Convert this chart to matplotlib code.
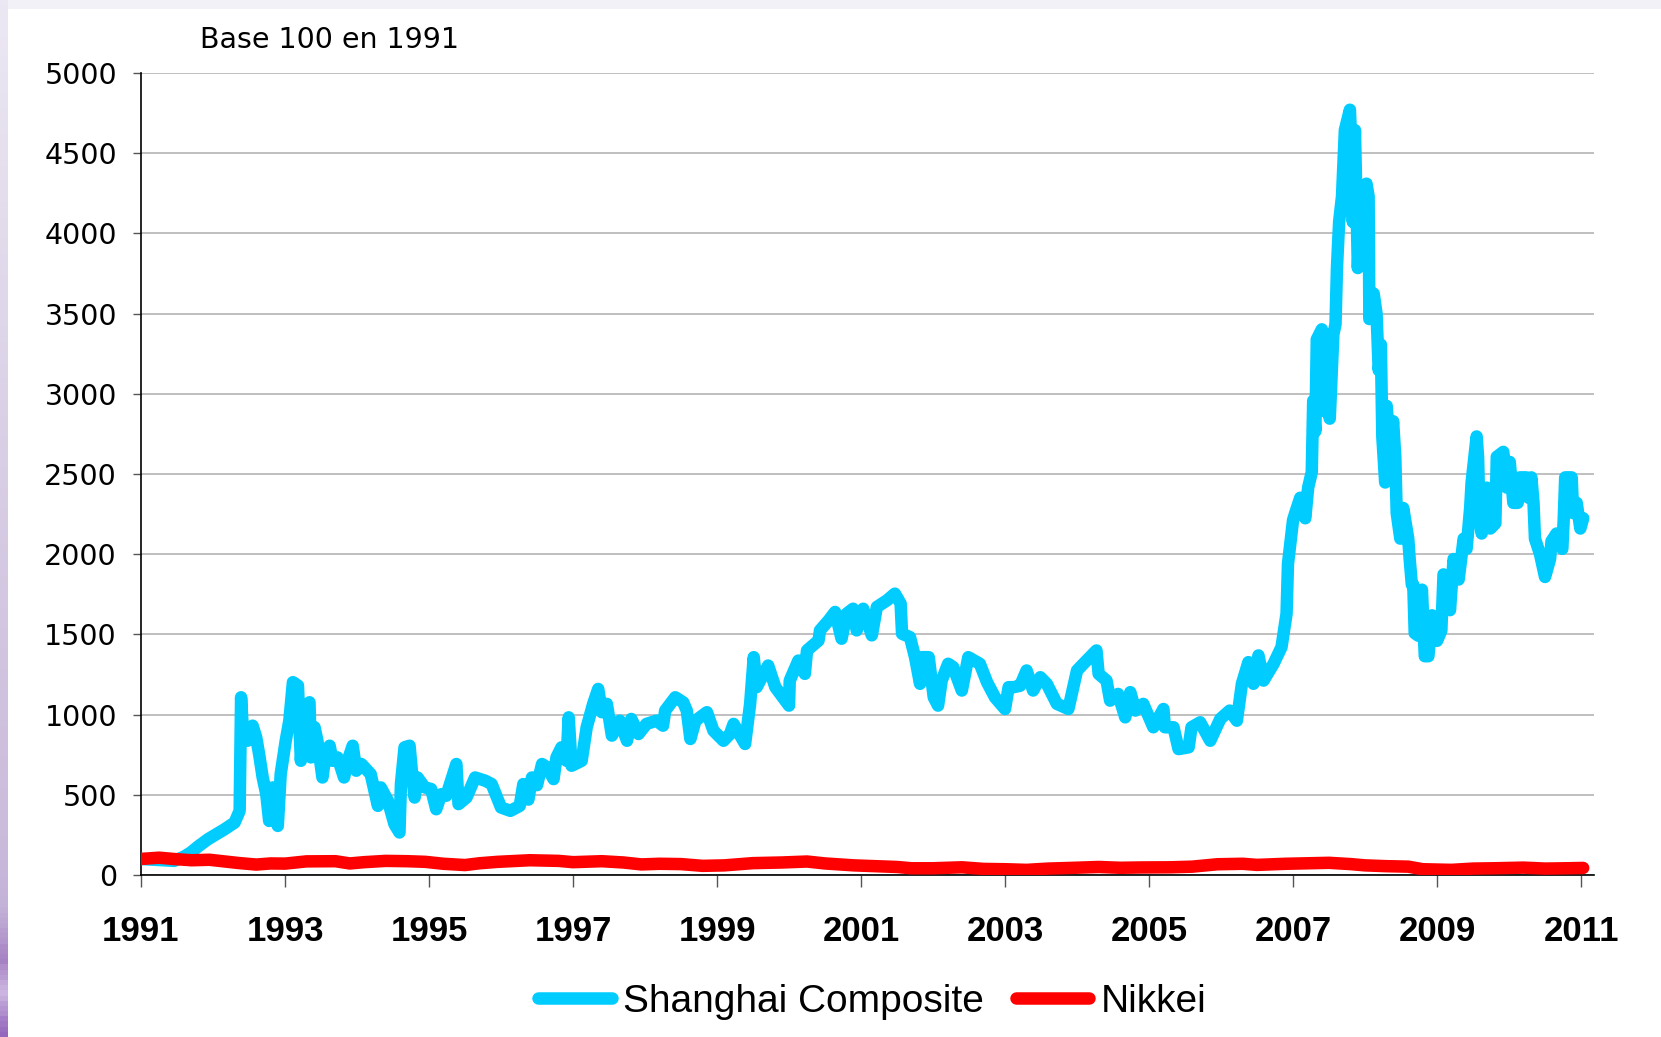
import numpy as np
import matplotlib
matplotlib.use("Agg")
import matplotlib.pyplot as plt
from matplotlib.colors import LinearSegmentedColormap

# Shanghai Composite, base 100 in 1991
sh_years = [1991.00, 1991.20, 1991.46, 1991.60, 1991.69, 1991.80, 1991.93, 1992.05, 1992.16, 1992.30,
            1992.37, 1992.39, 1992.41, 1992.48, 1992.55, 1992.60, 1992.64, 1992.69, 1992.74, 1992.78,
            1992.83, 1992.90, 1992.94, 1993.01, 1993.06, 1993.11, 1993.18, 1993.22, 1993.27, 1993.34,
            1993.36, 1993.41, 1993.45, 1993.52, 1993.57, 1993.62, 1993.66, 1993.73, 1993.82, 1993.87,
            1993.94, 1993.99, 1994.06, 1994.19, 1994.29, 1994.33, 1994.43, 1994.52, 1994.59, 1994.61,
            1994.66, 1994.73, 1994.77, 1994.80, 1994.84, 1994.94, 1995.03, 1995.10, 1995.17, 1995.24,
            1995.38, 1995.41, 1995.52, 1995.64, 1995.78, 1995.87, 1996.00, 1996.13, 1996.26, 1996.31,
            1996.38, 1996.43, 1996.50, 1996.57, 1996.64, 1996.73, 1996.77, 1996.84, 1996.91, 1996.94,
            1996.98, 1997.12, 1997.19, 1997.28, 1997.35, 1997.40, 1997.47, 1997.54, 1997.65, 1997.75,
            1997.81, 1997.91, 1998.02, 1998.16, 1998.25, 1998.28, 1998.42, 1998.53, 1998.58, 1998.63,
            1998.70, 1998.86, 1998.95, 1999.09, 1999.18, 1999.23, 1999.39, 1999.46, 1999.51, 1999.55,
            1999.71, 1999.81, 2000.00, 2000.01, 2000.13, 2000.22, 2000.25, 2000.41, 2000.43, 2000.55,
            2000.64, 2000.73, 2000.80, 2000.89, 2000.94, 2001.03, 2001.15, 2001.22, 2001.36, 2001.47,
            2001.55, 2001.57, 2001.68, 2001.75, 2001.82, 2001.84, 2001.94, 2002.01, 2002.07, 2002.12,
            2002.21, 2002.28, 2002.40, 2002.49, 2002.65, 2002.75, 2002.86, 2003.00, 2003.05, 2003.12,
            2003.21, 2003.30, 2003.39, 2003.49, 2003.58, 2003.72, 2003.88, 2004.00, 2004.09, 2004.27,
            2004.30, 2004.41, 2004.46, 2004.57, 2004.67, 2004.74, 2004.81, 2004.92, 2005.06, 2005.20,
            2005.22, 2005.34, 2005.41, 2005.55, 2005.59, 2005.71, 2005.85, 2005.99, 2006.12, 2006.22,
            2006.29, 2006.38, 2006.45, 2006.52, 2006.59, 2006.73, 2006.84, 2006.91, 2006.93, 2007.00,
            2007.03, 2007.10, 2007.17, 2007.21, 2007.26, 2007.28, 2007.31, 2007.33, 2007.40, 2007.42,
            2007.47, 2007.51, 2007.56, 2007.59, 2007.61, 2007.64, 2007.68, 2007.72, 2007.79, 2007.81,
            2007.83, 2007.86, 2007.90, 2007.94, 2007.98, 2008.02, 2008.05, 2008.06, 2008.12, 2008.16,
            2008.19, 2008.22, 2008.24, 2008.28, 2008.30, 2008.35, 2008.39, 2008.42, 2008.44, 2008.49,
            2008.53, 2008.60, 2008.62, 2008.65, 2008.67, 2008.69, 2008.74, 2008.79, 2008.83, 2008.88,
            2008.93, 2009.00, 2009.06, 2009.09, 2009.13, 2009.18, 2009.23, 2009.30, 2009.37, 2009.41,
            2009.46, 2009.48, 2009.55, 2009.57, 2009.59, 2009.62, 2009.69, 2009.74, 2009.81, 2009.83,
            2009.92, 2009.97, 2010.01, 2010.06, 2010.12, 2010.15, 2010.24, 2010.27, 2010.31, 2010.34,
            2010.36, 2010.43, 2010.50, 2010.57, 2010.59, 2010.66, 2010.74, 2010.76, 2010.78, 2010.87,
            2010.89, 2010.94, 2010.99, 2011.03]
sh_values = [100, 95, 88, 115, 140, 180, 223, 255, 285, 327,
             400, 1108, 942, 837, 931, 858, 754, 608, 504, 337,
             546, 306, 629, 837, 962, 1202, 1181, 712, 1004, 1077,
             733, 921, 837, 608, 775, 806, 712, 733, 608, 712,
             806, 650, 692, 629, 431, 546, 462, 317, 265, 567,
             796, 806, 608, 483, 608, 546, 536, 410, 504, 494,
             692, 442, 483, 608, 588, 567, 421, 400, 431, 567,
             470, 608, 560, 692, 671, 598, 733, 796, 712, 983,
             681, 712, 921, 1067, 1160, 1015, 1067, 869, 962, 837,
             973, 879, 942, 962, 931, 1025, 1108, 1077, 1025, 848,
             962, 1015, 900, 837, 879, 942, 817, 1067, 1358, 1171,
             1306, 1171, 1056, 1212, 1337, 1254, 1400, 1462, 1525, 1587,
             1640, 1473, 1629, 1660, 1525, 1660, 1494, 1671, 1712, 1754,
             1692, 1504, 1483, 1358, 1192, 1358, 1358, 1108, 1056, 1212,
             1317, 1296, 1150, 1358, 1317, 1202, 1108, 1035, 1171, 1171,
             1180, 1275, 1150, 1233, 1192, 1067, 1035, 1275, 1317, 1400,
             1254, 1212, 1087, 1129, 983, 1140, 1025, 1067, 921, 1035,
             921, 921, 785, 796, 921, 952, 837, 973, 1025, 962,
             1192, 1327, 1192, 1369, 1212, 1317, 1421, 1629, 1941, 2212,
             2256, 2352, 2224, 2415, 2511, 2957, 2766, 3339, 3402, 2893,
             3370, 2845, 3370, 3434, 3784, 4071, 4230, 4644, 4771, 4549,
             4071, 4644, 3784, 4230, 3848, 4310, 4230, 3466, 3625, 3498,
             3147, 3307, 2734, 2447, 2925, 2638, 2829, 2607, 2256, 2097,
             2288, 2097, 1970, 1810, 1810, 1508, 1492, 1779, 1364, 1364,
             1619, 1460, 1524, 1874, 1842, 1651, 1970, 1842, 2097, 2033,
             2288, 2447, 2734, 2607, 2224, 2129, 2415, 2160, 2192, 2607,
             2638, 2415, 2575, 2320, 2320, 2479, 2479, 2352, 2479, 2320,
             2097, 2001, 1858, 1970, 2081, 2129, 2033, 2224, 2479, 2479,
             2256, 2320, 2160, 2224]

# Nikkei, base 100 in 1991
nk_years = [1991.00, 1991.25, 1991.45, 1991.70, 1991.95, 1992.15, 1992.35, 1992.60, 1992.80, 1993.00,
            1993.30, 1993.70, 1993.90, 1994.10, 1994.40, 1994.70, 1994.95, 1995.20, 1995.50, 1995.70,
            1995.95, 1996.40, 1996.80, 1997.00, 1997.40, 1997.70, 1997.95, 1998.20, 1998.50, 1998.80,
            1999.10, 1999.50, 1999.90, 2000.25, 2000.50, 2000.90, 2001.20, 2001.50, 2001.70, 2002.00,
            2002.40, 2002.70, 2003.00, 2003.30, 2003.60, 2003.90, 2004.30, 2004.60, 2004.90, 2005.30,
            2005.60, 2005.95, 2006.30, 2006.50, 2006.90, 2007.20, 2007.50, 2007.80, 2008.00, 2008.30,
            2008.60, 2008.80, 2009.20, 2009.50, 2009.80, 2010.20, 2010.50, 2010.80, 2011.03]
nk_values = [100, 108, 100, 92, 95, 85, 75, 65, 72, 71,
             85, 86, 72, 80, 88, 86, 82, 70, 62, 73,
             82, 92, 88, 80, 86, 78, 66, 70, 68, 57,
             60, 74, 78, 84, 72, 60, 55, 50, 42, 42,
             48, 38, 36, 32, 40, 44, 50, 45, 47, 48,
             52, 67, 70, 63, 70, 73, 76, 68, 60, 55,
             52, 36, 32, 40, 42, 46, 40, 42, 44]

year_ticks = list(range(1991, 2012, 2))
value_ticks = list(range(0, 5001, 500))

W, H = 1661, 1037
fig = plt.figure(figsize=(W / 100, H / 100), dpi=100)
fig.patch.set_facecolor("white")

# slide background edges
top = fig.add_axes([0, 1 - 9 / H, 1, 9 / H])
top.set_axis_off()
top.add_patch(plt.Rectangle((0, 0), 1, 1, color="#f3f1f8", transform=top.transAxes))
side = fig.add_axes([0, 0, 8 / W, 1])
side.set_axis_off()
cmap = LinearSegmentedColormap.from_list(
    "edge", [(0, "#ece8f3"), (0.45, "#d8cee5"), (0.8, "#cbbcdb"), (0.88, "#c4b2d8"),
             (0.93, "#a682c4"), (0.96, "#cdb6e0"), (1, "#9468bd")])
side.imshow(np.linspace(0, 1, 200).reshape(-1, 1), cmap=cmap, aspect="auto",
            extent=[0, 1, 0, 1], vmin=0, vmax=1)
side.set_xlim(0, 1)
side.set_ylim(0, 1)

ax = fig.add_axes([141 / W, 1 - 875 / H, (1594 - 141) / W, (875 - 73) / H])
ax.plot(sh_years, sh_values, color="#00ccff", lw=9, solid_joinstyle="round",
        solid_capstyle="round", label="Shanghai Composite", zorder=3)
ax.plot(nk_years, nk_values, color="#ff0000", lw=9, solid_joinstyle="round",
        solid_capstyle="round", label="Nikkei", zorder=4)

ax.set_xlim(1991, 2011.18)
ax.set_ylim(0, 5000)
ax.set_yticks(value_ticks)
ax.set_xticks(year_ticks)
ax.set_xticklabels([str(y) for y in year_ticks], fontfamily="Liberation Sans",
                   fontweight="bold", fontsize=25)
ax.set_yticklabels([str(v) for v in value_ticks], fontfamily="DejaVu Sans", fontsize=20.5)
ax.grid(axis="y", color="#b4b4b4", lw=1.2)
ax.set_axisbelow(True)
for s in ["top", "right"]:
    ax.spines[s].set_visible(False)
ax.spines["left"].set_linewidth(1.2)
ax.spines["bottom"].set_linewidth(1.2)
ax.tick_params(axis="y", direction="out", length=5.8, width=1, color="#555555", pad=11.5)
ax.tick_params(axis="x", direction="out", length=8.6, width=1, color="#555555", pad=20.5)

fig.text(200 / W, 1 - 40 / H, "Base 100 en 1991", fontfamily="DejaVu Sans", fontsize=20.5,
         ha="left", va="center")

fig.legend(loc="center", bbox_to_anchor=(872 / W, 1 - 1002 / H), ncol=2, frameon=False,
           prop={"family": "Liberation Sans", "size": 28}, handlelength=1.9,
           handletextpad=0.28, columnspacing=0.82)

fig.savefig("out.png", dpi=100)
